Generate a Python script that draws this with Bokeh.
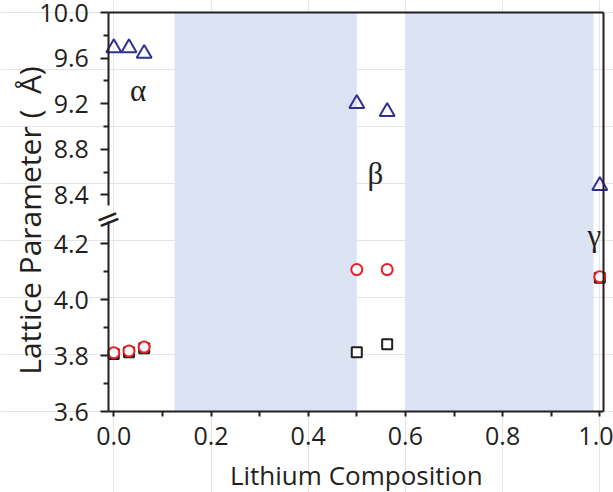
import math
from bokeh.plotting import figure
from bokeh.models import (FixedTicker, LinearAxis, Range1d, BoxAnnotation,
                          PrintfTickFormatter)
from bokeh.embed import file_html
from bokeh.resources import INLINE
from bokeh.core.properties import value

# ---------------- data ----------------
tri_x = [0.0, 0.03125, 0.0625, 0.5, 0.5625, 1.0]
tri_y = [9.69, 9.69, 9.64, 9.20, 9.13, 8.48]
circ_x = [0.0, 0.03125, 0.0625, 0.5, 0.5625, 1.0]
circ_y = [3.810, 3.816, 3.830, 4.107, 4.107, 4.081]
sq_x = [0.0, 0.03125, 0.0625, 0.5, 0.5625, 1.0]
sq_y = [3.805, 3.812, 3.826, 3.812, 3.840, 4.078]

band_left = [0.125, 0.6]
band_right = [0.5, 0.987]

phase_text = ["α", "β", "γ"]
phase_x = [0.05, 0.538, 0.989]
phase_y = [9.32, 8.59, 4.227]   # α, β on upper scale; γ on lower scale

x_ticks = [0.0, 0.2, 0.4, 0.6, 0.8, 1.0]
x_minor = [0.1, 0.3, 0.5, 0.7, 0.9]
top_ticks = [8.4, 8.8, 9.2, 9.6, 10.0]
top_minor = [8.6, 9.0, 9.4, 9.8]
bot_ticks = [3.6, 3.8, 4.0, 4.2]
bot_minor = [3.7, 3.9, 4.1]

x_label = "Lithium Composition"
y_label = "Lattice Parameter (\u00a0 Å)"

# ---------------- geometry (canvas == frame; axes are pinned inside it) ----------------
W, H = 613, 492
PX0, PPX = 113.3, 486.0          # page x of composition 0, px per unit composition
UP_TOP_PX, UP_PPU = 12.0, 114.0   # page y of 10.0, px per Å (upper scale)
LOW_BOT_PX, LOW_PPU = 411.0, 280.0  # page y of 3.6, px per Å (lower scale)
UP_MAX, LOW_MIN = 10.0, 3.6

XR = (-PX0 / PPX, (W - PX0) / PPX)
Y_UP = (UP_MAX - (H - UP_TOP_PX) / UP_PPU, UP_MAX + UP_TOP_PX / UP_PPU)
Y_LOW = (LOW_MIN - (H - LOW_BOT_PX) / LOW_PPU, LOW_MIN + LOW_BOT_PX / LOW_PPU)

X_LEFT = (108.3 - PX0) / PPX      # plot-box edges in data units
X_RIGHT = (603.3 - PX0) / PPX
UP_BOX_BOTTOM = UP_MAX - (LOW_BOT_PX - UP_TOP_PX) / UP_PPU
UP_BOUNDS = (8.31, UP_MAX)
LOW_BOUNDS = (LOW_MIN, 4.28)
BREAK_AT = 4.306                  # seam between the two scales (lower scale)

INK = "#231F20"
BLUE = "#2E3192"
RED = "#ED1C24"
BAND = "#DCE3F3"
FONT = "Open Sans"
FS = "25px"

p = figure(width=W, height=H, min_border=0, x_range=Range1d(*XR), y_range=Range1d(*Y_UP),
           x_axis_location=None, y_axis_location=None,
           toolbar_location=None, output_backend="svg",
           outline_line_color=None, background_fill_color="white",
           border_fill_color="white")
p.extra_y_ranges = {"low": Range1d(*Y_LOW)}


def style_axis(ax, ticks, minor, bounds, tick_out, minor_out, standoff):
    ax.ticker = FixedTicker(ticks=ticks, minor_ticks=minor)
    ax.formatter = PrintfTickFormatter(format="%.1f")
    ax.bounds = bounds
    ax.axis_line_color = INK
    ax.axis_line_width = 2
    ax.major_tick_line_color = INK
    ax.minor_tick_line_color = INK
    ax.major_tick_line_width = 2
    ax.minor_tick_line_width = 2
    ax.major_tick_in = 0
    ax.major_tick_out = tick_out
    ax.minor_tick_in = 0
    ax.minor_tick_out = minor_out
    ax.major_label_text_font = FONT
    ax.major_label_text_font_size = FS
    ax.major_label_text_color = INK
    ax.major_label_standoff = standoff


# upper-scale y axis
ya = LinearAxis(fixed_location=X_LEFT)
style_axis(ya, top_ticks, top_minor, UP_BOUNDS, 8, 5, 12)
p.add_layout(ya, "left")

# lower-scale y axis on the same line
yl = LinearAxis(y_range_name="low", fixed_location=X_LEFT)
style_axis(yl, bot_ticks, bot_minor, LOW_BOUNDS, 8, 5, 12)
p.add_layout(yl, "left")

# axis-break mark
brk = LinearAxis(y_range_name="low", fixed_location=X_LEFT,
                 ticker=FixedTicker(ticks=[BREAK_AT], minor_ticks=[]),
                 major_label_overrides={BREAK_AT: "="},
                 major_tick_out=0, major_tick_in=0, minor_tick_out=0, minor_tick_in=0,
                 axis_line_color=None, major_label_standoff=-11,
                 major_label_orientation=0.38,
                 major_label_text_font="DejaVu Sans", major_label_text_font_size="30px",
                 major_label_text_color=INK)
p.add_layout(brk, "left")

# x axis
xa = LinearAxis(y_range_name="low", fixed_location=LOW_MIN)
style_axis(xa, x_ticks, x_minor, (X_LEFT, X_RIGHT), 5, 5, 10)
p.add_layout(xa, "below")


def border_axis(side, loc, bounds, **kw):
    ax = LinearAxis(ticker=FixedTicker(ticks=[]), fixed_location=loc, bounds=bounds,
                    major_tick_out=0, major_tick_in=0, minor_tick_out=0, minor_tick_in=0,
                    major_label_text_font_size="0px", major_label_standoff=0,
                    axis_line_color=INK, axis_line_width=2, **kw)
    p.add_layout(ax, side)


border_axis("above", UP_MAX, (X_LEFT, X_RIGHT))
border_axis("right", X_RIGHT, (UP_BOX_BOTTOM, UP_MAX))

# phase bands
for l, r in zip(band_left, band_right):
    p.add_layout(BoxAnnotation(left=l, right=r, bottom=UP_BOX_BOTTOM, top=UP_MAX,
                               fill_color=BAND, fill_alpha=1.0, line_alpha=0,
                               level="underlay"))

# markers
p.scatter(tri_x, tri_y, marker="triangle", size=15, line_color=BLUE, line_width=2,
          fill_color=None)
p.scatter(sq_x, sq_y, marker="square", size=10, line_color=INK, line_width=2,
          fill_color="white", y_range_name="low")
p.scatter(circ_x, circ_y, marker="circle", size=11, line_color=RED, line_width=2,
          fill_color="white", y_range_name="low")

# phase labels
greek = dict(text_align="center", text_baseline="middle",
             text_font=value("Liberation Serif"), text_font_size="31px", text_color=INK)
p.text(x=phase_x[:2], y=phase_y[:2], text=phase_text[:2], **greek)
p.text(x=phase_x[2:], y=phase_y[2:], text=phase_text[2:], y_range_name="low", **greek)

# axis titles
p.text(x=[(29 - PX0) / PPX], y=[UP_MAX - (220 - UP_TOP_PX) / UP_PPU], text=[y_label],
       angle=math.pi / 2, text_align="center", text_baseline="middle",
       text_font=value(FONT), text_font_size="30px", text_color=INK)
p.text(x=[(X_LEFT + X_RIGHT) / 2], y=[LOW_MIN - (474 - LOW_BOT_PX) / LOW_PPU],
       text=[x_label], y_range_name="low", text_align="center", text_baseline="middle",
       text_font=value(FONT), text_font_size="26px", text_color=INK)

open("out.html", "w").write(file_html(p, INLINE))
